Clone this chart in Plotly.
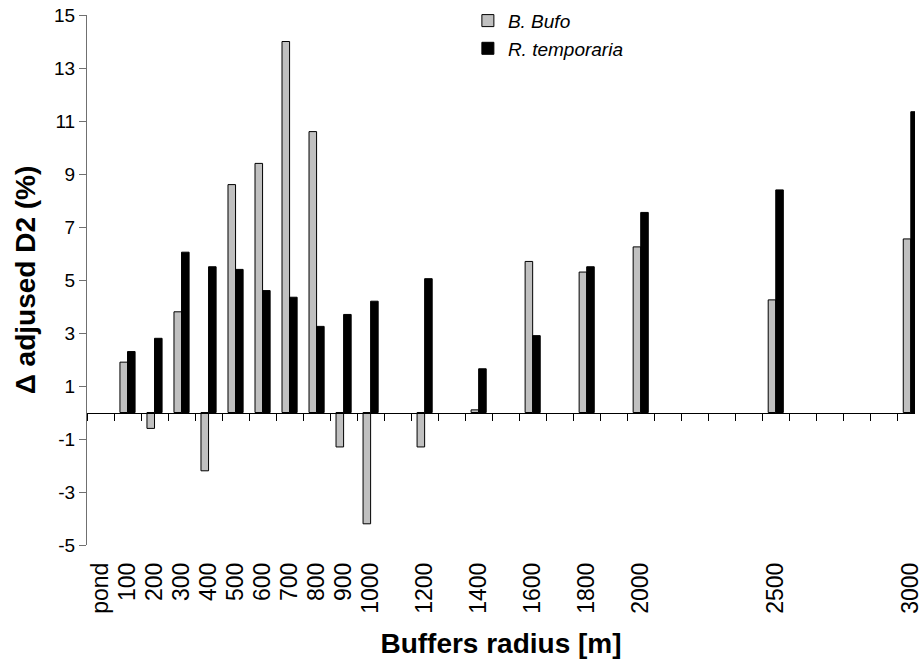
import plotly.graph_objects as go

# Buffer radii (category axis); unlabelled radii keep their slot on the axis
radii = ["pond", "100", "200", "300", "400", "500", "600", "700", "800", "900",
         "1000", "1100", "1200", "1300", "1400", "1500", "1600", "1700", "1800",
         "1900", "2000", "2100", "2200", "2300", "2400", "2500", "2600", "2700",
         "2800", "2900", "3000"]

# Radii that carry a tick label
labelled = ["pond", "100", "200", "300", "400", "500", "600", "700", "800",
            "900", "1000", "1200", "1400", "1600", "1800", "2000", "2500", "3000"]

# Y ticks and their labels (plain hyphen minus)
y_ticks = [-5, -3, -1, 1, 3, 5, 7, 9, 11, 13, 15]
y_labels = ["-5", "-3", "-1", "1", "3", "5", "7", "9", "11", "13", "15"]

# Change in adjusted D2 (%) per buffer radius
bufo = [None, 1.9, -0.6, 3.8, -2.2, 8.6, 9.4, 14.0, 10.6, -1.3,
        -4.2, None, -1.3, None, 0.1, None, 5.7, None, 5.3,
        None, 6.25, None, None, None, None, 4.25, None, None,
        None, None, 6.55]
temporaria = [None, 2.3, 2.8, 6.05, 5.5, 5.4, 4.6, 4.35, 3.25, 3.7,
              4.2, None, 5.05, None, 1.65, None, 2.9, None, 5.5,
              None, 7.55, None, None, None, None, 8.4, None, None,
              None, None, 11.35]

FONT = "Liberation Sans, Arial, sans-serif"
x_range = [-0.5, 30.155]

fig = go.Figure()
fig.add_trace(go.Bar(
    x=radii, y=bufo, name="<i>B. Bufo</i>", legendgroup="a",
    marker=dict(color="#c0c0c0", line=dict(color="black", width=1)),
))
fig.add_trace(go.Bar(
    x=radii, y=temporaria, name="<i>R. temporaria</i>", legendgroup="b",
    marker=dict(color="black", line=dict(color="black", width=1)),
))
# Invisible carrier trace so the zero-level axis gets its category ticks
fig.add_trace(go.Scatter(
    x=radii, y=[0] * len(radii), xaxis="x2", yaxis="y",
    mode="lines", line=dict(width=0), hoverinfo="skip", showlegend=False,
))

fig.update_layout(
    width=923, height=659,
    margin=dict(l=87, r=0, t=15, b=114),
    paper_bgcolor="white", plot_bgcolor="white",
    barmode="group", bargap=0.44, bargroupgap=0,
    font=dict(family=FONT, color="black"),
    showlegend=True,
    legend=dict(
        x=0.46, y=1.025, xanchor="left", yanchor="top",
        bgcolor="rgba(0,0,0,0)", font=dict(size=19, family=FONT),
        itemwidth=30, tracegroupgap=0, traceorder="grouped",
    ),
    xaxis=dict(
        type="category", categoryorder="array", categoryarray=radii,
        range=x_range, showline=False, ticks="", showgrid=False,
        zeroline=False, tickmode="array", tickvals=labelled, ticktext=labelled,
        tickangle=-90, tickfont=dict(size=23, family=FONT),
        ticklabelstandoff=12,
        title=dict(text="<b>Buffers radius [m]</b>",
                   font=dict(size=28, family=FONT), standoff=20),
    ),
    xaxis2=dict(
        type="category", categoryorder="array", categoryarray=radii,
        range=x_range, overlaying="x", anchor="free", position=0.25,
        showline=True, linecolor="black", linewidth=1,
        ticks="outside", ticklen=7, tickcolor="black", tickwidth=1,
        tickson="boundaries", tickmode="linear", tick0=0, dtick=1,
        showticklabels=False, showgrid=False, zeroline=False,
    ),
    yaxis=dict(
        range=[-5, 15], tickmode="array", tickvals=y_ticks, ticktext=y_labels,
        showline=True, linecolor="#707070", linewidth=1,
        ticks="outside", ticklen=7, tickcolor="#707070",
        showgrid=False, zeroline=False,
        tickfont=dict(size=19, family=FONT),
        title=dict(text="<b>\u0394 adjused D2 (%)</b>",
                   font=dict(size=28, family=FONT), standoff=10),
    ),
)

fig.write_html("out.html")
